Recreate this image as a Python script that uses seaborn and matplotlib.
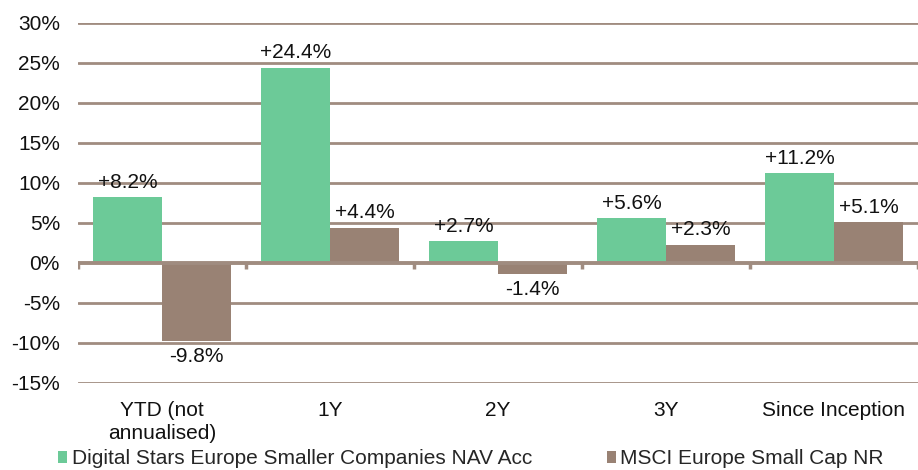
import matplotlib
matplotlib.use("Agg")
import matplotlib.pyplot as plt
import seaborn as sns
import pandas as pd
import numpy as np
from matplotlib.patches import Patch

categories = ["YTD (not\nannualised)", "1Y", "2Y", "3Y", "Since Inception"]
series_names = ["Digital Stars Europe Smaller Companies NAV Acc", "MSCI Europe Small Cap NR"]
fund_values = [8.2, 24.4, 2.7, 5.6, 11.2]
index_values = [-9.8, 4.4, -1.4, 2.3, 5.1]
y_ticks = [-15, -10, -5, 0, 5, 10, 15, 20, 25, 30]

GREEN = "#6CCA98"
BROWN = "#998274"
GRID = "#A08C80"

sns.set_theme(style="white")
plt.rcParams["font.family"] = ["Liberation Sans", "DejaVu Sans"]
FS = 15

df = pd.DataFrame({
    "period": categories * 2,
    "series": [series_names[0]] * len(categories) + [series_names[1]] * len(categories),
    "value": fund_values + index_values,
})

fig = plt.figure(figsize=(9.18, 4.70), dpi=100)
ax = fig.add_axes([78 / 918, 87 / 470, 1 - 78 / 918, 360 / 470])

sns.barplot(data=df, x="period", y="value", hue="series", order=categories,
            hue_order=series_names, palette=[GREEN, BROWN], width=0.82, gap=0,
            saturation=1, legend=False, ax=ax, linewidth=0, zorder=2, errorbar=None)

ax.set_ylim(-15, 30)
ax.set_xlim(-0.5, len(categories) - 0.5)
ax.set_yticks(y_ticks)
ax.set_yticklabels([f"{v}%" for v in y_ticks], fontsize=FS, color="#111111")
ax.set_xticks(range(len(categories)))
ax.set_xticklabels(categories, fontsize=FS, color="#111111", linespacing=1.25)
ax.tick_params(axis="y", length=0, pad=13)
ax.tick_params(axis="x", length=0, pad=13)
ax.set_xlabel("")
ax.set_ylabel("")
for s in ax.spines.values():
    s.set_visible(False)

for v in y_ticks:
    if v != 0:
        ax.axhline(v, color=GRID, lw=2, zorder=1)
ax.axhline(0, color=GRID, lw=2.8, zorder=4)
bounds = np.arange(len(categories) + 1) - 0.5
ax.vlines(bounds, -0.7, 0, color=GRID, lw=2.5, zorder=4)

for cont in ax.containers:
    vals = [b.get_height() for b in cont]
    ax.bar_label(cont, labels=[f"{v:+.1f}%" for v in vals], fontsize=FS,
                 padding=4, color="#111111")

handles = [Patch(facecolor=GREEN, edgecolor="none"), Patch(facecolor=BROWN, edgecolor="none")]
fig.legend(handles, series_names, loc="center left", bbox_to_anchor=(58 / 918, 11 / 470),
           ncol=2, frameon=False, fontsize=FS, handlelength=0.45, handleheight=0.45,
           handletextpad=0.2, columnspacing=3.6, borderaxespad=0, borderpad=0)

fig.savefig("out.png", dpi=100)
